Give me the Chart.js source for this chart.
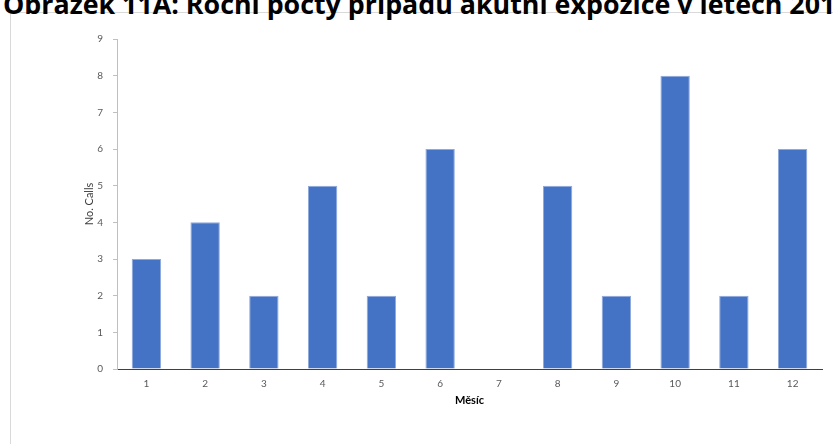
<!DOCTYPE html>
<html>
<head>
<meta charset="utf-8">
<script src="https://cdn.jsdelivr.net/npm/chart.js@4"></script>
<style>
  html, body { margin: 0; padding: 0; background: #fff; overflow: hidden; }
  #wrap { position: relative; width: 833px; height: 444px; overflow: hidden; }
  #title {
    position: absolute; left: 3px; top: -13px; white-space: nowrap;
    font-family: "Open Sans", "Noto Sans", sans-serif; font-weight: 700;
    font-size: 26.8px; color: #000; line-height: 34px;
  }
  #frame {
    position: absolute; left: 10px; top: 12px; width: 900px; height: 500px;
    border: 1px solid #d9d9d9; box-sizing: border-box;
  }
  #chart { position: absolute; left: 0; top: 0; }
</style>
</head>
<body>
<div id="wrap">
  <div id="frame"></div>
  <div id="title">Obrázek 11A: Roční počty případů akutní expozice v letech 2013–2017</div>
  <canvas id="chart" width="833" height="444"></canvas>
</div>
<script>
const months = ["1", "2", "3", "4", "5", "6", "7", "8", "9", "10", "11", "12"];
const calls = [3, 4, 2, 5, 2, 6, 0, 5, 2, 8, 2, 6];
const yTicks = [0, 1, 2, 3, 4, 5, 6, 7, 8, 9];

Chart.defaults.font.family = "Lato, 'Open Sans', sans-serif";

new Chart(document.getElementById("chart"), {
  type: "bar",
  data: {
    labels: months,
    datasets: [
      {
        label: "No. Calls",
        data: calls,
        backgroundColor: "#4472c4",
        borderColor: "#8eaadb",
        borderWidth: 1,
        barPercentage: 0.5,
        categoryPercentage: 1,
      },
    ],
  },
  options: {
    responsive: false,
    animation: false,
    layout: { padding: { left: 82, right: 11, top: 39, bottom: 34 } },
    plugins: { legend: { display: false }, tooltip: { enabled: false } },
    scales: {
      x: {
        grid: { display: false },
        border: { display: true, color: "#404040", width: 1 },
        ticks: { color: "#595959", font: { size: 10 }, padding: 1 },
        title: {
          display: true,
          text: "Měsíc",
          color: "#000",
          font: { size: 11, weight: "bold" },
          padding: { top: 2, bottom: 3 },
        },
        afterFit: (s) => { s.height = 41; },
      },
      y: {
        min: 0,
        max: 9,
        afterBuildTicks: (s) => { s.ticks = yTicks.map((v) => ({ value: v })); },
        grid: { drawOnChartArea: false, drawTicks: true, tickLength: 4, color: "#bfbfbf" },
        border: { display: true, color: "#bfbfbf", width: 1 },
        ticks: { color: "#595959", font: { size: 10 }, padding: 10 },
        title: {
          display: true,
          text: "No. Calls",
          color: "#404040",
          font: { size: 11 },
          padding: { top: 1, bottom: 0 },
        },
        afterFit: (s) => { s.width = 35; },
      },
    },
  },
});
</script>
</body>
</html>
